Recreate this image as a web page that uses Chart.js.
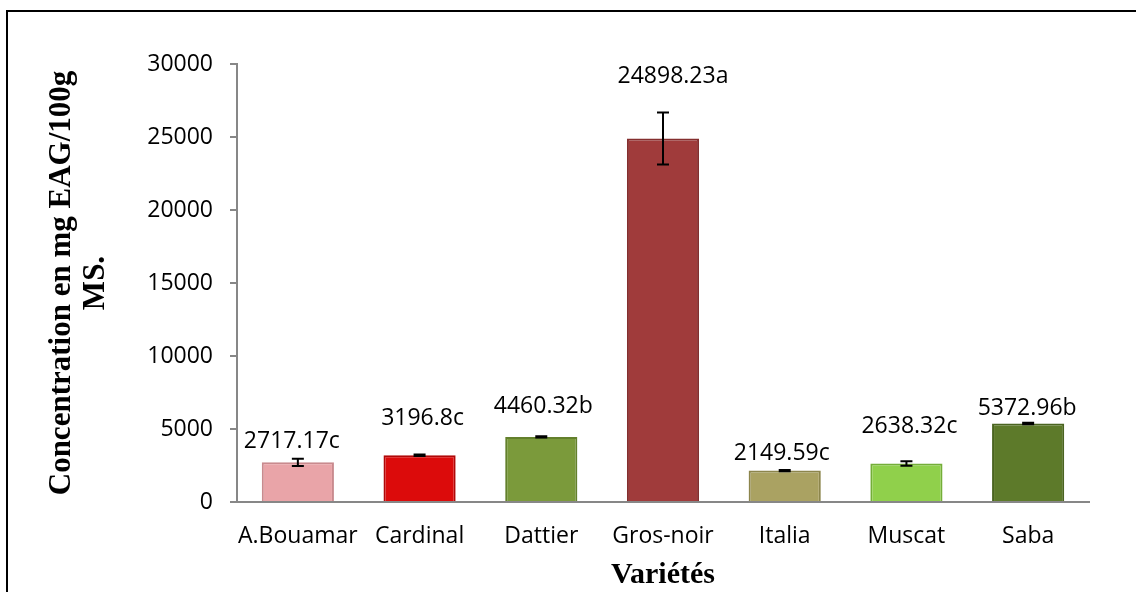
<!DOCTYPE html>
<html>
<head>
<meta charset="utf-8">
<script src="https://cdn.jsdelivr.net/npm/chart.js@4"></script>
<style>
  html, body { margin: 0; padding: 0; background: #ffffff; }
  #wrap { width: 1136px; height: 592px; position: relative; }
</style>
</head>
<body>
<div id="wrap"><canvas id="c" width="1136" height="592"></canvas></div>
<script>
// ---- data ----
const categories = ['A.Bouamar', 'Cardinal', 'Dattier', 'Gros-noir', 'Italia', 'Muscat', 'Saba'];
const values = [2717.17, 3196.8, 4460.32, 24898.23, 2149.59, 2638.32, 5372.96];
const errors = [250, 50, 50, 1780, 50, 150, 50];
const letters = ['c', 'c', 'b', 'a', 'c', 'c', 'b'];
const yTicks = [0, 5000, 10000, 15000, 20000, 25000, 30000];

// ---- styles ----
const barColors = ['#E9A4A8', '#DC0B0B', '#7B9A3B', '#A03B3B', '#AAA262', '#90D04B', '#5D7A2A'];
const barBorders = ['#C98A8E', '#B00808', '#63802C', '#842E2E', '#8C854C', '#74AE38', '#4A6420'];
// manual label nudges (dx, dy above bar top, px) as in the reference layout
const labelDx = [-6, 3, 2, 10, -3, 3, -1];
const labelDy = [14, 30, 24, 55, 11, 30, 9];

const labelFont = '23px "Open Sans"';

const framePlugin = {
  id: 'frame',
  beforeDraw(chart) {
    const ctx = chart.ctx;
    ctx.save();
    ctx.fillStyle = '#ffffff';
    ctx.fillRect(0, 0, chart.width, chart.height);
    ctx.strokeStyle = '#000000';
    ctx.lineWidth = 2;
    ctx.beginPath();
    ctx.moveTo(7, 592);
    ctx.lineTo(7, 11);
    ctx.lineTo(1136, 11);
    ctx.stroke();
    ctx.restore();
  }
};

const extrasPlugin = {
  id: 'extras',
  afterDatasetsDraw(chart) {
    const ctx = chart.ctx;
    const meta = chart.getDatasetMeta(0);
    const ys = chart.scales.y;
    ctx.save();
    // error bars
    ctx.strokeStyle = '#000000';
    ctx.lineWidth = 2;
    meta.data.forEach((bar, i) => {
      const x = bar.x;
      const yHi = ys.getPixelForValue(values[i] + errors[i]);
      const yLo = ys.getPixelForValue(values[i] - errors[i]);
      ctx.beginPath();
      ctx.moveTo(x, yHi); ctx.lineTo(x, yLo);
      ctx.moveTo(x - 6, yHi); ctx.lineTo(x + 6, yHi);
      ctx.moveTo(x - 6, yLo); ctx.lineTo(x + 6, yLo);
      ctx.stroke();
    });
    // data labels
    ctx.fillStyle = '#000000';
    ctx.font = labelFont;
    ctx.textAlign = 'center';
    ctx.textBaseline = 'alphabetic';
    meta.data.forEach((bar, i) => {
      const top = ys.getPixelForValue(values[i]);
      ctx.fillText(String(values[i]) + letters[i], bar.x + labelDx[i], top - labelDy[i]);
    });
    ctx.restore();
  }
};

new Chart(document.getElementById('c'), {
  type: 'bar',
  data: {
    labels: categories,
    datasets: [{
      data: values,
      backgroundColor: barColors,
      borderColor: barBorders,
      borderWidth: 2,
      borderSkipped: 'bottom',
      categoryPercentage: 1.0,
      barPercentage: 0.593
    }]
  },
  options: {
    responsive: false,
    animation: false,
    devicePixelRatio: 1,
    layout: { padding: { left: 0, right: 47, top: 64, bottom: 0 } },
    plugins: {
      legend: { display: false },
      tooltip: { enabled: false },
      title: { display: false }
    },
    scales: {
      x: {
        type: 'category',
        grid: { display: false, drawTicks: false },
        border: { display: true, color: '#878787', width: 2 },
        ticks: {
          color: '#000000',
          font: { family: 'Open Sans', size: 23 },
          padding: 21,
          maxRotation: 0,
          autoSkip: false
        },
        title: {
          display: true,
          text: 'Variétés',
          color: '#000000',
          font: { family: 'Liberation Serif', size: 30, weight: 'bold', lineHeight: 1 },
          padding: { top: 0, bottom: 2 }
        },
        afterFit(scale) { scale.height = 90; }
      },
      y: {
        min: 0,
        max: 30000,
        afterBuildTicks(scale) { scale.ticks = yTicks.map(v => ({ value: v })); },
        grid: { drawOnChartArea: false, drawTicks: true, tickLength: 7, color: '#878787', lineWidth: 2 },
        border: { display: true, color: '#878787', width: 2 },
        ticks: {
          color: '#000000',
          font: { family: 'Open Sans', size: 23 },
          padding: 17,
          callback: (v) => String(v)
        },
        title: {
          display: true,
          text: ['Concentration en mg EAG/100g', 'MS.'],
          color: '#000000',
          font: { family: 'Liberation Serif', size: 31, weight: 'bold', lineHeight: 1.097 },
          padding: { top: 45, bottom: 0 }
        },
        afterFit(scale) { scale.width = 237; }
      }
    }
  },
  plugins: [framePlugin, extrasPlugin]
});
</script>
</body>
</html>
